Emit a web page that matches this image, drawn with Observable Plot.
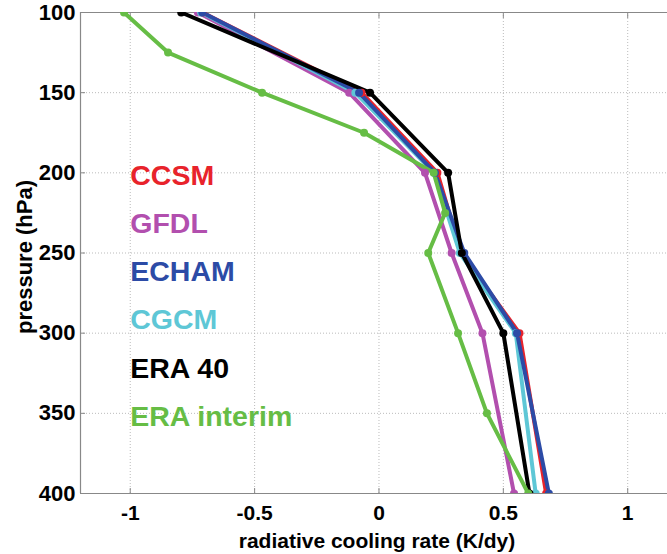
<!DOCTYPE html>
<html>
<head>
<meta charset="utf-8">
<script src="https://cdn.jsdelivr.net/npm/d3@7"></script>
<script src="https://cdn.jsdelivr.net/npm/@observablehq/plot@0.6"></script>
<style>
  html, body { margin: 0; padding: 0; background: #fff; overflow: hidden; }
  #chart svg { display: block; }
</style>
</head>
<body>
<div id="chart"></div>
<script>
// Pressure levels (hPa)
const modelPressures = [100, 150, 200, 250, 300, 400];
const eraInterimPressures = [100, 125, 150, 175, 200, 225, 250, 300, 350, 400];

// Radiative cooling rate (K/dy)
const ccsm = [-0.71, -0.07, 0.235, 0.33, 0.565, 0.672];
const gfdl = [-0.728, -0.12, 0.185, 0.292, 0.416, 0.543];
const echam = [-0.71, -0.08, 0.225, 0.343, 0.555, 0.683];
const cgcm = [-0.715, -0.095, 0.222, 0.325, 0.55, 0.63];
const era40 = [-0.795, -0.036, 0.278, 0.333, 0.5, 0.605];
const eraInterim = [-1.025, -0.848, -0.47, -0.06, 0.22, 0.266, 0.198, 0.318, 0.434, 0.6];

const seriesNames = ["CCSM", "GFDL", "ECHAM", "CGCM", "ERA 40", "ERA interim"];
const seriesColors = ["#e8232b", "#b24fae", "#2c4ba6", "#5ec7d6", "#000000", "#66bd45"];

const xTicks = [-1, -0.5, 0, 0.5, 1];
const yTicks = [100, 150, 200, 250, 300, 350, 400];

const seriesValues = [ccsm, gfdl, echam, cgcm, era40, eraInterim];
const seriesLevels = [modelPressures, modelPressures, modelPressures, modelPressures, modelPressures, eraInterimPressures];

// Drawing order (bottom to top)
const drawOrder = ["CCSM", "GFDL", "CGCM", "ECHAM", "ERA 40", "ERA interim"];

const rows = [];
for (const name of drawOrder) {
  const i = seriesNames.indexOf(name);
  seriesValues[i].forEach((v, j) => rows.push({series: name, rate: v, p: seriesLevels[i][j]}));
}

const legendRows = seriesNames.map((name, i) => ({name, color: seriesColors[i], p: 202 + i * 30}));

const font = "'Liberation Sans', Arial, Helvetica, sans-serif";
const xLabel = "radiative cooling rate (K/dy)";
const yLabel = "pressure (hPa)";

const chart = Plot.plot({
  width: 667,
  height: 554,
  marginLeft: 80,
  marginRight: 0,
  marginTop: 12,
  marginBottom: 61,
  style: {fontFamily: font, fontWeight: "bold", color: "#000", background: "#fff"},
  x: {domain: [-1.2, 1.16]},
  y: {domain: [100, 400], reverse: true},
  color: {domain: seriesNames, range: seriesColors},
  marks: [
    Plot.gridX(xTicks, {stroke: "#bbb", strokeOpacity: 1, strokeDasharray: "1,2"}),
    Plot.gridY(yTicks, {stroke: "#bbb", strokeOpacity: 1, strokeDasharray: "1,2"}),
    Plot.ruleY([100], {stroke: "#888", strokeWidth: 1.2}),
    Plot.ruleY([400], {stroke: "#888", strokeWidth: 1.2}),
    Plot.ruleX([-1.2], {stroke: "#888", strokeWidth: 1.2}),
    Plot.axisX(xTicks, {anchor: "top", tickSize: -5, stroke: "#888", tickFormat: () => "", label: null}),
    Plot.axisX(xTicks, {anchor: "bottom", tickSize: -5, stroke: "#888", tickFormat: () => "", label: null}),
    Plot.axisY(yTicks, {anchor: "left", tickSize: -5, stroke: "#888", tickFormat: () => "", label: null}),
    Plot.axisX(xTicks, {
      anchor: "bottom", tickSize: 0, tickPadding: 12, fontSize: 21,
      tickFormat: d => String(d), label: null
    }),
    Plot.axisY(yTicks, {
      anchor: "left", tickSize: 0, tickPadding: 5, fontSize: 22,
      tickFormat: d => String(d), label: null
    }),
    // Axis titles
    Plot.text([xLabel], {
      frameAnchor: "bottom", textAnchor: "middle", lineAnchor: "middle", dx: 3, dy: 48, text: d => d,
      fontSize: 21, fontWeight: "bold", fill: "#000", fontFamily: font
    }),
    Plot.text([yLabel], {
      frameAnchor: "left", textAnchor: "middle", lineAnchor: "middle", dx: -56, dy: 4, text: d => d, rotate: -90,
      fontSize: 22, fontWeight: "bold", fill: "#000", fontFamily: font
    }),
    Plot.line(rows, {x: "rate", y: "p", z: "series", stroke: "series", strokeWidth: 4, clip: true}),
    Plot.dot(rows, {x: "rate", y: "p", fill: "series", r: 4, clip: true}),
    Plot.text(legendRows, {
      x: () => -1.0, y: "p", text: "name", fill: "color",
      textAnchor: "start", fontSize: 28.5, fontWeight: "bold", fontFamily: font
    })
  ]
});

document.getElementById("chart").appendChild(chart);
</script>
</body>
</html>
